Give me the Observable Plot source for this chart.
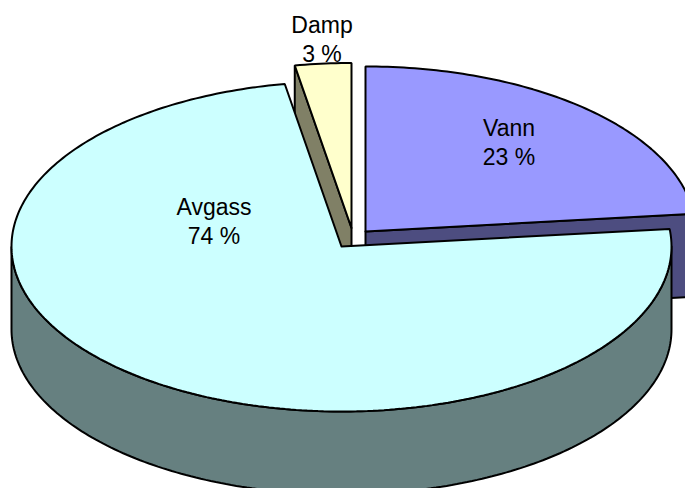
<!DOCTYPE html>
<html>
<head>
<meta charset="utf-8">
<style>html,body{margin:0;padding:0;background:#fff}svg{display:block}</style>
<script src="https://cdn.jsdelivr.net/npm/d3@7"></script>
<script src="https://cdn.jsdelivr.net/npm/@observablehq/plot@0.6"></script>
</head>
<body>
<script>
// Data
const sliceNames = ["Vann", "Avgass", "Damp"];
const shares = [23.3, 73.95, 2.75];
const shareLabels = ["23 %", "74 %", "3 %"];
const topColors = ["#9999FF", "#CCFFFF", "#FFFFCC"];
const wallColors = ["#4D4D80", "#668080", "#808066"];

// Layout of the exploded 3D pie
const W = 685, H = 488, RX = 330, RY = 165, DEPTH = 83;
const apex = [[365, 231], [341, 246], [351, 227.5]];
const labelOffset = [[143.5, -88], [-127.5, -24], [-29.5, -187.5]];

const total = d3.sum(shares);
let acc = 0;
const slices = sliceNames.map((name, i) => {
  const a0 = acc / total * 2 * Math.PI;
  acc += shares[i];
  const a1 = acc / total * 2 * Math.PI;
  return {name, i, a0, a1, cx: apex[i][0], cy: apex[i][1], label: shareLabels[i]};
});
const rim = (s, a, dz = 0) => ({x: s.cx + RX * Math.sin(a), y: s.cy - RY * Math.cos(a) + dz});
const arc = (s, a0, a1, dz = 0) => {
  const n = Math.max(2, Math.ceil(Math.abs(a1 - a0) * 60));
  return d3.range(n + 1).map(k => rim(s, a0 + (a1 - a0) * k / n, dz));
};
const ring = pts => [...pts, pts[0]];
const topFace = s => ring([{x: s.cx, y: s.cy}, ...arc(s, s.a0, s.a1)]);

// cut face: runs from the apex to a rim point, extruded downward
const cutWall = (s, a) => {
  const p = rim(s, a);
  return ring([{x: s.cx, y: s.cy}, p, {x: p.x, y: p.y + DEPTH}, {x: s.cx, y: s.cy + DEPTH}]);
};
// outer wall: front part of the rim, extruded downward
const outerWall = (s) => {
  const a0 = Math.max(s.a0, Math.PI / 2), a1 = Math.min(s.a1, 3 * Math.PI / 2);
  return ring([...arc(s, a0, a1), ...arc(s, a1, a0, DEPTH)]);
};

const [vann, avgass, damp] = slices;
const poly = (pts, fill) => Plot.line(pts, {
  x: "x", y: "y", fill, stroke: "#000", strokeWidth: 2,
  strokeLinejoin: "miter", curve: "linear"
});
const labelMark = (s, txt, dy) => Plot.text([s], {
  x: "cx", y: "cy", text: () => txt,
  dx: labelOffset[s.i][0], dy: labelOffset[s.i][1] + dy,
  fontSize: 23, fill: "#000", fontFamily: "'Liberation Sans', Arial, sans-serif",
  textAnchor: "middle", lineAnchor: "middle"
});
const labels = slices.flatMap(s => [
  labelMark(s, s.name, -14.5),
  labelMark(s, s.label, 14.5)
]);

const chart = Plot.plot({
  width: W, height: H,
  marginTop: 0, marginRight: 0, marginBottom: 0, marginLeft: 0,
  x: {type: "linear", domain: [0, W], range: [0, W], axis: null},
  y: {type: "linear", domain: [0, H], range: [0, H], axis: null},
  style: {background: "#fff"},
  marks: [
    poly(cutWall(vann, vann.a1), wallColors[0]),
    poly(topFace(vann), topColors[0]),
    poly(cutWall(damp, damp.a0), wallColors[2]),
    poly(topFace(damp), topColors[2]),
    poly(outerWall(avgass), wallColors[1]),
    poly(topFace(avgass), topColors[1]),
    ...labels
  ]
});
document.body.appendChild(chart);
</script>
</body>
</html>
